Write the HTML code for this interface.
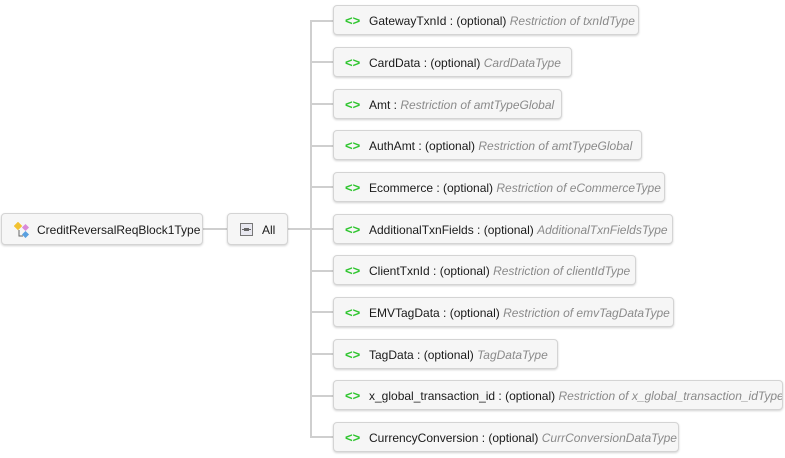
<!DOCTYPE html>
<html><head><meta charset="utf-8"><style>
body{margin:0;width:785px;height:458px;background:#fff;position:relative;overflow:hidden;font-family:"Liberation Sans",sans-serif;font-size:12px;color:#1a1a1a}
.b{position:absolute;height:30px;box-sizing:border-box;border:1px solid #d4d4d4;border-radius:4px;background:#f6f6f6;box-shadow:0 1px 2px rgba(0,0,0,.18);white-space:nowrap;overflow:hidden;line-height:30px}
.e{left:333px}
.g{color:#2fc52f;font-weight:bold;position:absolute;left:11px;font-size:13px}
.t{position:absolute;left:35px}
i{color:#8a8a8a}
.l{position:absolute;background:#cfcfcf}
</style></head><body>
<div class="l" style="left:310px;top:20px;width:2px;height:418px"></div>
<div class="l" style="left:203px;top:228px;width:24px;height:2px"></div>
<div class="l" style="left:288px;top:228px;width:22px;height:2px"></div>

<div class="b" style="left:1px;top:213px;width:202px;height:32px;line-height:32px">
<svg style="position:absolute;left:12px;top:8px" width="16" height="16"><rect x="1" y="1" width="6" height="6" fill="#f2c230" transform="rotate(45 4 4)"/><rect x="9" y="3" width="5" height="5" fill="#d98ad9" transform="rotate(45 11.5 5.5)"/><rect x="9" y="10" width="5" height="5" fill="#5aa0e0" transform="rotate(45 11.5 12.5)"/><path d="M5 8v6h4" stroke="#666" fill="none"/></svg>
<span style="position:absolute;left:35px">CreditReversalReqBlock1Type</span></div>
<div class="b" style="left:227px;top:213px;width:61px;height:32px;line-height:32px">
<svg style="position:absolute;left:12px;top:9px" width="13" height="13"><rect x="0.5" y="0.5" width="12" height="12" fill="#e8e8f0" stroke="#777"/><rect x="4" y="5" width="5" height="3" fill="#666"/><path d="M2 6.5h9" stroke="#666"/></svg>
<span style="position:absolute;left:34px">All</span></div>

<div class="l" style="left:310px;top:20px;width:23px;height:2px"></div>
<div class="b e" style="top:5px;width:306px"><span class="g">&lt;&gt;</span><span class="t">GatewayTxnId : (optional) <i>Restriction of txnIdType</i></span></div>
<div class="l" style="left:310px;top:61px;width:23px;height:2px"></div>
<div class="b e" style="top:47px;width:239px"><span class="g">&lt;&gt;</span><span class="t">CardData : (optional) <i>CardDataType</i></span></div>
<div class="l" style="left:310px;top:103px;width:23px;height:2px"></div>
<div class="b e" style="top:89px;width:229px"><span class="g">&lt;&gt;</span><span class="t">Amt : <i>Restriction of amtTypeGlobal</i></span></div>
<div class="l" style="left:310px;top:145px;width:23px;height:2px"></div>
<div class="b e" style="top:130px;width:309px"><span class="g">&lt;&gt;</span><span class="t">AuthAmt : (optional) <i>Restriction of amtTypeGlobal</i></span></div>
<div class="l" style="left:310px;top:186px;width:23px;height:2px"></div>
<div class="b e" style="top:172px;width:332px"><span class="g">&lt;&gt;</span><span class="t">Ecommerce : (optional) <i>Restriction of eCommerceType</i></span></div>
<div class="l" style="left:310px;top:228px;width:23px;height:2px"></div>
<div class="b e" style="top:214px;width:340px"><span class="g">&lt;&gt;</span><span class="t">AdditionalTxnFields : (optional) <i>AdditionalTxnFieldsType</i></span></div>
<div class="l" style="left:310px;top:270px;width:23px;height:2px"></div>
<div class="b e" style="top:255px;width:303px"><span class="g">&lt;&gt;</span><span class="t">ClientTxnId : (optional) <i>Restriction of clientIdType</i></span></div>
<div class="l" style="left:310px;top:311px;width:23px;height:2px"></div>
<div class="b e" style="top:297px;width:341px"><span class="g">&lt;&gt;</span><span class="t">EMVTagData : (optional) <i>Restriction of emvTagDataType</i></span></div>
<div class="l" style="left:310px;top:353px;width:23px;height:2px"></div>
<div class="b e" style="top:339px;width:225px"><span class="g">&lt;&gt;</span><span class="t">TagData : (optional) <i>TagDataType</i></span></div>
<div class="l" style="left:310px;top:395px;width:23px;height:2px"></div>
<div class="b e" style="top:380px;width:450px"><span class="g">&lt;&gt;</span><span class="t">x_global_transaction_id : (optional) <i>Restriction of x_global_transaction_idType</i></span></div>
<div class="l" style="left:310px;top:436px;width:23px;height:2px"></div>
<div class="b e" style="top:422px;width:346px"><span class="g">&lt;&gt;</span><span class="t">CurrencyConversion : (optional) <i>CurrConversionDataType</i></span></div>
</body></html>
